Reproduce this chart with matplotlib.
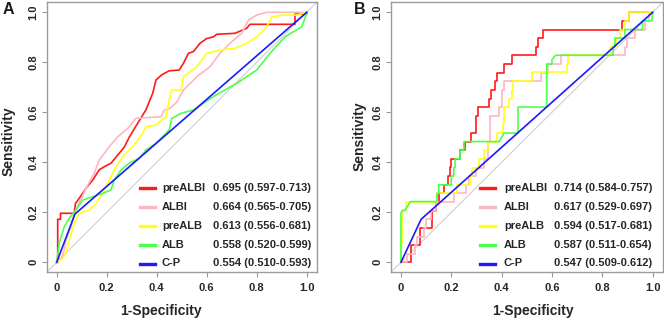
import matplotlib
matplotlib.use("Agg")
import matplotlib.pyplot as plt
from matplotlib.lines import Line2D

plt.rcParams["font.family"] = ["Liberation Sans", "DejaVu Sans"]
plt.rcParams["font.weight"] = "bold"

# ---------------- data ----------------
names = ["preALBI", "ALBI", "preALB", "ALB", "C-P"]
colors = ["#ff1a1a", "#ffb6c1", "#ffff1a", "#4dff4d", "#1a1aff"]

auc_a = ["0.695 (0.597-0.713)", "0.664 (0.565-0.705)", "0.613 (0.556-0.681)",
         "0.558 (0.520-0.599)", "0.554 (0.510-0.593)"]
auc_b = ["0.714 (0.584-0.757)", "0.617 (0.529-0.697)", "0.594 (0.517-0.681)",
         "0.587 (0.511-0.654)", "0.547 (0.509-0.612)"]

# panel A  (x = 1-specificity, y = sensitivity)
a_prealbi_x = [0, 0.004, 0.004, 0.015, 0.015, 0.07, 0.075, 0.09, 0.12, 0.144, 0.17, 0.195,
               0.217, 0.244, 0.27, 0.29, 0.317, 0.357, 0.384, 0.397, 0.42, 0.45, 0.49, 0.507,
               0.527, 0.547, 0.573, 0.6, 0.627, 0.64, 0.713, 0.76, 0.773, 0.953, 0.953, 1.0, 1.0]
a_prealbi_y = [0, 0, 0.172, 0.172, 0.196, 0.196, 0.235, 0.256, 0.30, 0.329, 0.37, 0.385,
               0.396, 0.429, 0.46, 0.50, 0.545, 0.61, 0.676, 0.729, 0.75, 0.766, 0.769, 0.796,
               0.836, 0.843, 0.876, 0.895, 0.902, 0.912, 0.916, 0.936, 0.952, 0.952, 0.993, 0.993, 1.0]

a_albi_x = [0, 0.02, 0.03, 0.037, 0.057, 0.07, 0.09, 0.117, 0.15, 0.17, 0.21, 0.244, 0.277,
            0.29, 0.317, 0.417, 0.43, 0.453, 0.48, 0.507, 0.56, 0.613, 0.653, 0.693, 0.74,
            0.767, 0.8, 0.84, 1.0]
a_albi_y = [0, 0.02, 0.049, 0.089, 0.142, 0.196, 0.236, 0.296, 0.356, 0.409, 0.462, 0.502,
            0.529, 0.542, 0.576, 0.582, 0.609, 0.616, 0.64, 0.689, 0.742, 0.782, 0.836, 0.876,
            0.916, 0.969, 0.989, 1.0, 1.0]

a_prealb_x = [0, 0.024, 0.037, 0.05, 0.07, 0.09, 0.13, 0.157, 0.184, 0.21, 0.237, 0.27, 0.304,
              0.344, 0.357, 0.397, 0.437, 0.45, 0.461, 0.497, 0.507, 0.56, 0.58, 0.6, 0.653,
              0.713, 0.76, 0.8, 0.84, 0.86, 0.907, 0.96, 1.0]
a_prealb_y = [0, 0.016, 0.036, 0.089, 0.156, 0.196, 0.209, 0.236, 0.276, 0.329, 0.382, 0.429,
              0.462, 0.516, 0.542, 0.549, 0.582, 0.649, 0.689, 0.689, 0.742, 0.782, 0.809, 0.836,
              0.849, 0.856, 0.876, 0.902, 0.942, 0.982, 0.989, 0.989, 1.0]

a_alb_x = [0, 0.01, 0.03, 0.05, 0.077, 0.104, 0.144, 0.184, 0.217, 0.23, 0.257, 0.29, 0.33,
           0.357, 0.397, 0.437, 0.45, 0.46, 0.497, 0.547, 0.627, 0.72, 0.8, 0.853, 0.913,
           0.98, 1.0, 1.0]
a_alb_y = [0, 0.076, 0.142, 0.176, 0.209, 0.249, 0.262, 0.276, 0.289, 0.329, 0.369, 0.396,
           0.416, 0.449, 0.476, 0.516, 0.53, 0.575, 0.596, 0.609, 0.663, 0.716, 0.769, 0.836,
           0.902, 0.942, 0.996, 1.0]

a_cp_x = [0, 0.073, 1.0]
a_cp_y = [0, 0.193, 1.0]

# panel B
b_prealbi_x = [0, 0.038, 0.038, 0.075, 0.075, 0.122, 0.122, 0.14, 0.14, 0.15, 0.15, 0.17, 0.17,
               0.185, 0.185, 0.195, 0.195, 0.2, 0.2, 0.235, 0.235, 0.255, 0.255, 0.28, 0.28,
               0.3, 0.3, 0.307, 0.307, 0.35, 0.35, 0.357, 0.357, 0.375, 0.375, 0.38, 0.38,
               0.41, 0.41, 0.44, 0.44, 0.536, 0.536, 0.546, 0.546, 0.565, 0.565, 0.877, 0.877,
               0.905, 0.905, 1.0]
b_prealbi_y = [0, 0, 0.069, 0.069, 0.136, 0.136, 0.205, 0.205, 0.24, 0.24, 0.276, 0.276, 0.31,
               0.31, 0.345, 0.345, 0.38, 0.38, 0.414, 0.414, 0.448, 0.448, 0.483, 0.483, 0.517,
               0.517, 0.586, 0.586, 0.621, 0.621, 0.655, 0.655, 0.69, 0.69, 0.724, 0.724, 0.759,
               0.759, 0.793, 0.793, 0.828, 0.828, 0.862, 0.862, 0.897, 0.897, 0.931, 0.931, 0.966,
               0.966, 1.0, 1.0]

b_albi_x = [0, 0.025, 0.025, 0.055, 0.055, 0.065, 0.065, 0.09, 0.09, 0.1, 0.1, 0.12, 0.12, 0.14,
            0.14, 0.21, 0.21, 0.26, 0.26, 0.27, 0.27, 0.3, 0.3, 0.33, 0.33, 0.345, 0.345, 0.355,
            0.355, 0.39, 0.39, 0.4, 0.4, 0.41, 0.41, 0.555, 0.555, 0.585, 0.585, 0.635, 0.635,
            0.89, 0.89, 0.9, 0.9, 0.93, 0.93, 0.97, 0.97, 0.985, 0.985, 1.0]
b_albi_y = [0, 0, 0.034, 0.034, 0.069, 0.069, 0.103, 0.103, 0.138, 0.138, 0.172, 0.172, 0.207,
            0.207, 0.241, 0.241, 0.276, 0.276, 0.31, 0.31, 0.345, 0.345, 0.379, 0.379, 0.414,
            0.414, 0.483, 0.483, 0.586, 0.586, 0.621, 0.621, 0.69, 0.69, 0.724, 0.724, 0.759,
            0.759, 0.793, 0.793, 0.828, 0.828, 0.862, 0.862, 0.897, 0.897, 0.931, 0.931, 0.966,
            0.966, 1.0, 1.0]

b_prealb_x = [0, 0, 0.005, 0.005, 0.01, 0.01, 0.02, 0.02, 0.143, 0.143, 0.222, 0.222, 0.275,
              0.275, 0.283, 0.283, 0.31, 0.31, 0.33, 0.33, 0.345, 0.345, 0.38, 0.38, 0.405,
              0.405, 0.41, 0.41, 0.43, 0.43, 0.44, 0.44, 0.445, 0.445, 0.519, 0.519, 0.659,
              0.659, 0.665, 0.665, 0.83, 0.83, 0.855, 0.855, 0.87, 0.87, 0.89, 0.89, 0.905,
              0.905, 1.0]
b_prealb_y = [0, 0.069, 0.069, 0.172, 0.172, 0.207, 0.207, 0.241, 0.241, 0.276, 0.276, 0.31,
              0.31, 0.345, 0.345, 0.379, 0.379, 0.414, 0.414, 0.448, 0.448, 0.483, 0.483, 0.517,
              0.517, 0.552, 0.552, 0.621, 0.621, 0.655, 0.655, 0.69, 0.69, 0.724, 0.724, 0.762,
              0.762, 0.793, 0.793, 0.828, 0.828, 0.862, 0.862, 0.897, 0.897, 0.931, 0.931, 0.966,
              0.966, 1.0, 1.0]

b_alb_x = [0, 0, 0.005, 0.016, 0.038, 0.143, 0.143, 0.15, 0.15, 0.2, 0.2, 0.21, 0.21, 0.215,
           0.215, 0.235, 0.235, 0.25, 0.25, 0.39, 0.41, 0.465, 0.465, 0.579, 0.579, 0.6, 0.6,
           0.614, 0.843, 0.843, 0.85, 0.85, 0.89, 0.89, 0.96, 0.96, 0.997, 1.0]
b_alb_y = [0, 0.196, 0.207, 0.209, 0.243, 0.243, 0.276, 0.276, 0.31, 0.31, 0.345, 0.345, 0.379,
           0.379, 0.414, 0.414, 0.448, 0.448, 0.483, 0.483, 0.517, 0.517, 0.621, 0.621, 0.793,
           0.793, 0.81, 0.828, 0.828, 0.862, 0.862, 0.897, 0.897, 0.931, 0.931, 0.966, 0.966, 1.0]

b_cp_x = [0, 0.08, 1.0]
b_cp_y = [0, 0.172, 1.0]

ticks = [0, 0.2, 0.4, 0.6, 0.8, 1.0]
tick_labels = ["0", "0.2", "0.4", "0.6", "0.8", "1.0"]

W, H = 664, 323
fig = plt.figure(figsize=(W / 100, H / 100), dpi=100)


def px(x, y):
    """pixel position (top-left origin) -> figure fraction"""
    return x / W, 1 - y / H


def setup_axes(ax):
    ax.set_xlim(-0.04, 1.04)
    ax.set_ylim(-0.04, 1.04)
    ax.plot([-0.04, 1.04], [-0.04, 1.04], color="#cfcfcf", lw=0.8, zorder=1)
    for s in ax.spines.values():
        s.set_color("#9a9a9a")
        s.set_linewidth(1.0)
    ax.set_xticks(ticks)
    ax.set_xticklabels(tick_labels)
    ax.set_yticks(ticks)
    ax.set_yticklabels(tick_labels, rotation=90, va="center")
    ax.tick_params(axis="both", colors="#9a9a9a", length=3.6, width=0.8,
                   labelsize=8, labelcolor="#262626")
    ax.tick_params(axis="x", pad=4)
    ax.tick_params(axis="y", pad=2.5)


def draw_legend(x_line, x_name, x_auc, rows_y, aucs):
    for i in range(len(names)):
        y = rows_y[i]
        (x0, yy), (x1, _) = px(x_line[0], y), px(x_line[1], y)
        fig.add_artist(Line2D([x0, x1], [yy, yy], color=colors[i], lw=2.4,
                              transform=fig.transFigure))
        fig.text(*px(x_name, y), names[i], fontsize=8, color="#262626",
                 ha="left", va="center")
        fig.text(*px(x_auc, y), aucs[i], fontsize=8, color="#262626",
                 ha="left", va="center")


# ---------------- panel A ----------------
axA = fig.add_axes([46.7 / W, (H - 272.3) / H, 270 / W, 270 / H])
setup_axes(axA)
curves_a = [(a_prealbi_x, a_prealbi_y), (a_albi_x, a_albi_y), (a_prealb_x, a_prealb_y),
            (a_alb_x, a_alb_y), (a_cp_x, a_cp_y)]
for (xs, ys), c in zip(curves_a, colors):
    axA.plot(xs, ys, color=c, lw=1.2, zorder=2)

# ---------------- panel B ----------------
axB = fig.add_axes([390.9 / W, (H - 272.3) / H, 271.8 / W, 270 / H])
setup_axes(axB)
curves_b = [(b_prealbi_x, b_prealbi_y), (b_albi_x, b_albi_y), (b_prealb_x, b_prealb_y),
            (b_alb_x, b_alb_y), (b_cp_x, b_cp_y)]
for (xs, ys), c in zip(curves_b, colors):
    axB.plot(xs, ys, color=c, lw=1.2, zorder=2)

rows = [188, 207, 226, 245, 263.5]
draw_legend((140, 155), 162, 213, rows, auc_a)
draw_legend((480, 495), 504, 554, rows, auc_b)

# axis titles and panel letters
fig.text(*px(161, 311), "1-Specificity", fontsize=10, color="#262626", ha="center", va="center")
fig.text(*px(532.5, 311), "1-Specificity", fontsize=10, color="#262626", ha="center", va="center")
fig.text(*px(9, 141), "Sensitivity", fontsize=10, color="#262626", rotation=90,
         ha="center", va="center")
fig.text(*px(360, 136), "Sensitivity", fontsize=10, color="#262626", rotation=90,
         ha="center", va="center")
fig.text(*px(8, 9), "A", fontsize=11.5, color="#1a1a1a", ha="center", va="center")
fig.text(*px(359.5, 9), "B", fontsize=11.5, color="#1a1a1a", ha="center", va="center")

fig.savefig("out.png", dpi=100)
